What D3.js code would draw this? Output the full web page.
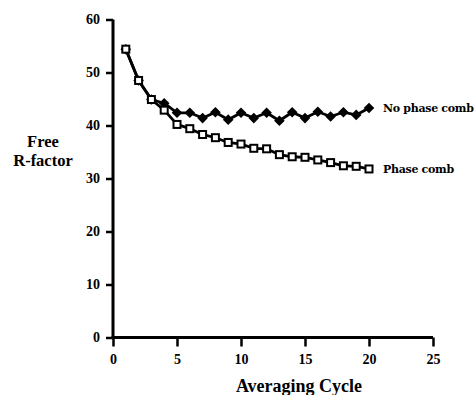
<!DOCTYPE html>
<html>
<head>
<meta charset="utf-8">
<script src="https://cdn.jsdelivr.net/npm/d3@7"></script>
<style>
  html, body { margin: 0; padding: 0; background: #fff; }
  svg { display: block; }
</style>
</head>
<body>
<svg id="chart" width="474" height="395"></svg>
<script>
// Averaging cycle number (shared by both series)
const cycles = [1, 2, 3, 4, 5, 6, 7, 8, 9, 10, 11, 12, 13, 14, 15, 16, 17, 18, 19, 20];
// Free R-factor without phase combination
const noPhaseComb = [54.4, 48.5, 44.9, 44.2, 42.4, 42.4, 41.4, 42.5, 41.1, 42.4, 41.4, 42.4, 40.9, 42.5, 41.4, 42.6, 41.7, 42.5, 42.0, 43.3];
// Free R-factor with phase combination
const phaseComb = [54.4, 48.5, 44.9, 42.9, 40.2, 39.4, 38.3, 37.7, 36.8, 36.5, 35.7, 35.6, 34.5, 34.1, 34.0, 33.5, 33.0, 32.4, 32.3, 31.8];
const xTicks = [0, 5, 10, 15, 20, 25];
const yTicks = [0, 10, 20, 30, 40, 50, 60];
const seriesNames = ["No phase comb", "Phase comb"];

const svg = d3.select("#chart");
const x = d3.scaleLinear().domain([0, 25]).range([113, 433]);
const y = d3.scaleLinear().domain([0, 60]).range([337.5, 19.5]);

const tickFont = "'Liberation Serif', 'Times New Roman', serif";

// Axes
const xAxis = svg.append("g")
  .attr("transform", `translate(0,${y(0)})`)
  .call(d3.axisBottom(x).tickValues(xTicks).tickSize(9).tickPadding(8).tickSizeOuter(0));
const yAxis = svg.append("g")
  .attr("transform", `translate(${x(0)},0)`)
  .call(d3.axisLeft(y).tickValues(yTicks).tickSize(7).tickPadding(6).tickSizeOuter(0));

[xAxis, yAxis].forEach(g => {
  g.select(".domain").attr("stroke", "#000").attr("stroke-width", 3);
  g.selectAll(".tick line").attr("stroke", "#000").attr("stroke-width", 2.5);
  g.selectAll(".tick text")
    .attr("fill", "#000")
    .style("font-family", tickFont)
    .style("font-weight", "bold")
    .style("font-size", "14px");
});
// extend axis lines so they join at the corner
xAxis.select(".domain").attr("d", `M${x(0) - 1.5},0H${x(25)}`);
yAxis.select(".domain").attr("d", `M0,${y(60)}V${y(0) + 1.5}`);

// Lines
const line = d3.line().x(d => x(d[0])).y(d => y(d[1]));
const noPts = cycles.map((c, i) => [c, noPhaseComb[i]]);
const pcPts = cycles.map((c, i) => [c, phaseComb[i]]);

svg.append("path").datum(noPts).attr("d", line)
  .attr("fill", "none").attr("stroke", "#000").attr("stroke-width", 2.8).attr("stroke-linejoin", "round");
svg.append("path").datum(pcPts).attr("d", line)
  .attr("fill", "none").attr("stroke", "#000").attr("stroke-width", 2.8).attr("stroke-linejoin", "round");

// Diamond markers (no phase combination)
svg.append("g").selectAll("path").data(noPts).join("path")
  .attr("transform", d => `translate(${x(d[0])},${y(d[1])})`)
  .attr("d", "M0,-5.3L5.3,0L0,5.3L-5.3,0Z")
  .attr("fill", "#000");

// Open square markers (phase combination)
svg.append("g").selectAll("rect").data(pcPts).join("rect")
  .attr("x", d => x(d[0]) - 3.5)
  .attr("y", d => y(d[1]) - 3.5)
  .attr("width", 7).attr("height", 7)
  .attr("fill", "#fff").attr("stroke", "#000").attr("stroke-width", 2);

// Series labels at line ends
const labelFont = "'DejaVu Serif', serif";
svg.append("text")
  .attr("x", 383).attr("y", y(noPhaseComb[19]) + 4)
  .style("font-family", labelFont).style("font-weight", "bold").style("font-size", "11px")
  .style("letter-spacing", "-0.3px")
  .text(seriesNames[0]);
svg.append("text")
  .attr("x", 383).attr("y", y(phaseComb[19]) + 4)
  .style("font-family", labelFont).style("font-weight", "bold").style("font-size", "11px")
  .style("letter-spacing", "-0.3px")
  .text(seriesNames[1]);

// Axis titles
svg.append("text")
  .attr("x", 299).attr("y", 392)
  .attr("text-anchor", "middle")
  .style("font-family", tickFont).style("font-weight", "bold").style("font-size", "18px")
  .text("Averaging Cycle");
const yTitle = svg.append("text")
  .attr("text-anchor", "middle")
  .style("font-family", tickFont).style("font-weight", "bold").style("font-size", "16.5px");
yTitle.append("tspan").attr("x", 43).attr("y", 147).text("Free");
yTitle.append("tspan").attr("x", 43).attr("y", 165.5).text("R-factor");
</script>
</body>
</html>
